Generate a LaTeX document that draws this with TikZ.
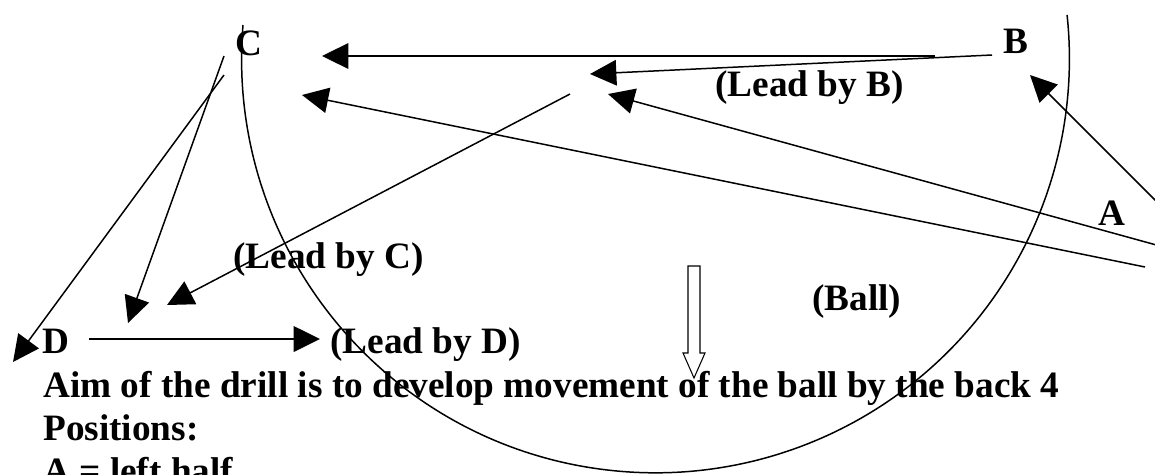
\documentclass[tikz,border=0pt]{standalone}
\usepackage{fontspec}
\setmainfont{Liberation Serif}
\usetikzlibrary{arrows.meta}
\tikzset{
  lbl/.style={anchor=base west,inner sep=0pt,font=\fontsize{21.2}{25}\selectfont\bfseries},
  run/.style={line width=0.85pt,-{Triangle[length=15pt,width=14.5pt]}},
}
\begin{document}
\begin{tikzpicture}[x=0.02cm,y=-0.02cm]
\useasboundingbox (0,0) rectangle (1155,474);
\draw[line width=0.85pt] (243,25) arc[start angle=175.3,end angle=366.1,radius=8.28cm];
\draw[line width=0.6pt,fill=white] (688,266) -- (700,266) -- (700,353) -- (705,353) -- (694,378) -- (683,353) -- (688,353) -- cycle;

\node[lbl] (c) at (235,55) {C};
\node[lbl] (b) at (1003,53) {B};
\node[lbl] (a) at (1098,225) {A};
\node[lbl] (d) at (42,353) {D};
\node[lbl] (leadb) at (715,96) {(Lead by B)};
\node[lbl] (leadc) at (233,268) {(Lead by C)};
\node[lbl] (leadd) at (330,353) {(Lead by D)};
\node[lbl] (ball) at (812,310) {(Ball)};
\node[lbl] (aim) at (43,397) {Aim of the drill is to develop movement of the ball by the back 4};
\node[lbl] (pos) at (43,440) {Positions:};
\node[lbl] (half) at (43,483) {A = left half};

\coordinate (b1) at (935,56); \coordinate (c1) at (322,56);
\coordinate (b2) at (992,55); \coordinate (m1) at (590,74);
\coordinate (a1) at (1160,246); \coordinate (m2) at (608,94);
\coordinate (a2) at (1145,267); \coordinate (c2) at (302,95);
\coordinate (a3) at (1160,205); \coordinate (b3) at (1030,75);
\coordinate (m3) at (570,94); \coordinate (d1) at (167,305);
\coordinate (c3) at (224,56); \coordinate (d2) at (128,323);
\coordinate (c4) at (224,75); \coordinate (d3) at (13,362);
\coordinate (d4) at (89,339); \coordinate (d5) at (320,339);

\draw[run,line width=1.1pt] (b1) -- (c1);
\draw[run] (b2) -- (m1);
\draw[run] (a1) -- (m2);
\draw[run] (a2) -- (c2);
\draw[run] (a3) -- (b3);
\draw[run] (m3) -- (d1);
\draw[run] (c3) -- (d2);
\draw[run] (c4) -- (d3);
\draw[run,line width=1.3pt] (d4) -- (d5);
\end{tikzpicture}
\end{document}
